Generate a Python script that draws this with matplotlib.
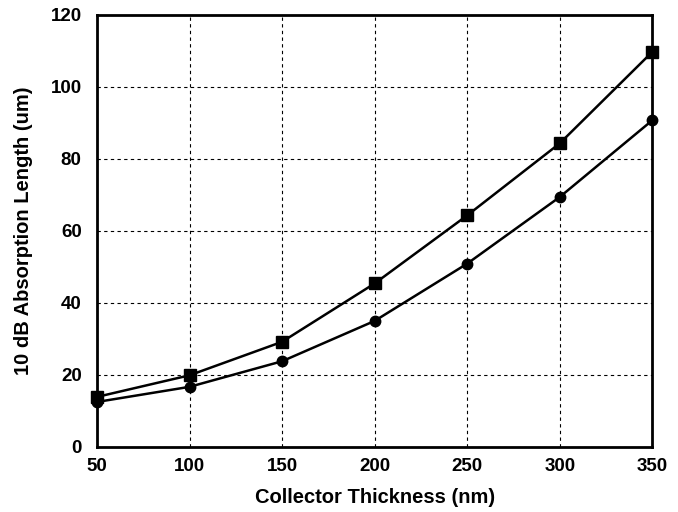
import numpy as np
import matplotlib
matplotlib.use("Agg")
import matplotlib.pyplot as plt

plt.rcParams['font.family'] = ['Liberation Sans', 'DejaVu Sans']
plt.rcParams['font.weight'] = 'bold'

thickness = [50, 100, 150, 200, 250, 300, 350]
squares = [13.9, 19.9, 29.2, 45.4, 64.3, 84.3, 109.7]
circles = [12.5, 16.7, 23.8, 35.0, 50.9, 69.4, 90.7]

fig = plt.figure(figsize=(6.78, 5.12), dpi=100)
ax = fig.add_axes([0.143, 0.127, 0.819, 0.844])

ax.plot(thickness, squares, color="black", marker="s", markersize=8.5, linewidth=1.8, clip_on=False, zorder=3)
ax.plot(thickness, circles, color="black", marker="o", markersize=7.5, linewidth=1.8, clip_on=False, zorder=3)

ax.set_xlim(50, 350)
ax.set_ylim(0, 120)
ax.set_xticks(thickness)
ax.set_yticks(np.arange(0, 121, 20))
ax.grid(True, color="black", linestyle=(0, (3, 3)), linewidth=0.8)
ax.tick_params(direction="in", length=0, labelsize=13.5)
ax.tick_params(axis="x", pad=8)
ax.tick_params(axis="y", pad=11)
for s in ax.spines.values():
    s.set_linewidth(2)

ax.set_xlabel("Collector Thickness (nm)", fontsize=14.5, fontweight="bold", va="center")
ax.set_ylabel("10 dB Absorption Length (um)", fontsize=14.5, fontweight="bold", va="center")
ax.xaxis.set_label_coords(0.5, -0.116)
ax.yaxis.set_label_coords(-0.132, 0.5)

fig.savefig("out.png", dpi=100)
